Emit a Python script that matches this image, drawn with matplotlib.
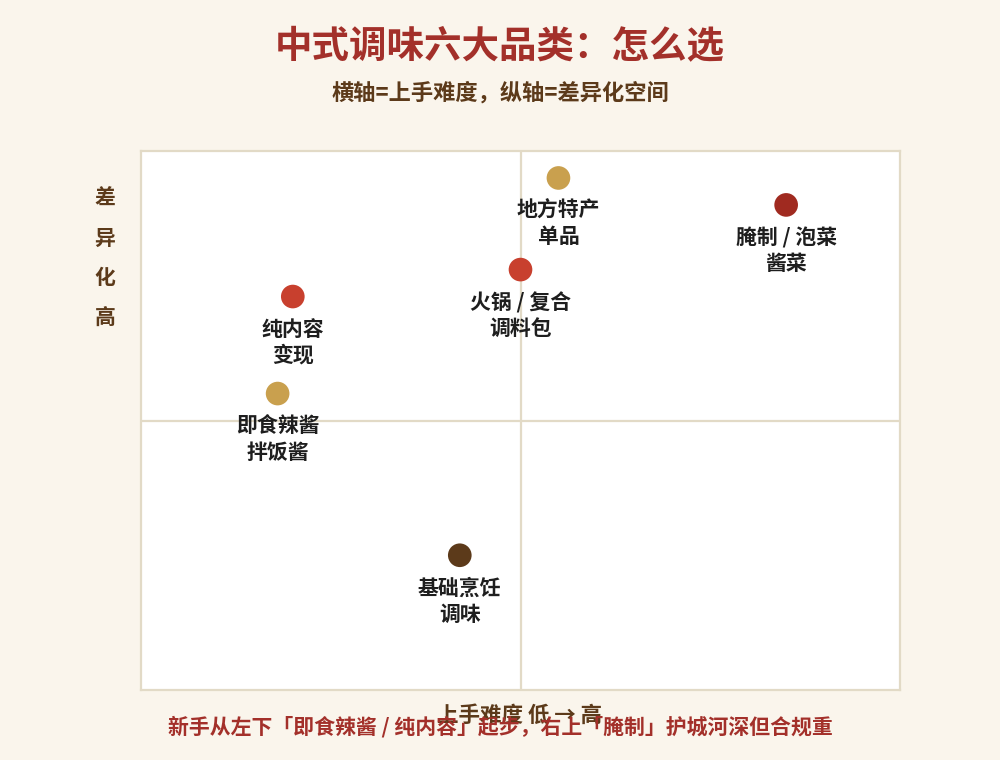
import matplotlib
matplotlib.use("Agg")
import matplotlib.pyplot as plt

plt.rcParams['font.family'] = ['Noto Sans CJK SC', 'DejaVu Sans']

# data: 上手难度 (x) vs 差异化空间 (y), 0-10
names = ['纯内容\n变现', '即食辣酱\n拌饭酱', '火锅 / 复合\n调料包',
         '地方特产\n单品', '腌制 / 泡菜\n酱菜', '基础烹饪\n调味']
difficulty = [2.0, 1.8, 5.0, 5.5, 8.5, 4.2]
differentiation = [7.3, 5.5, 7.8, 9.5, 9.0, 2.5]
colors = ['#C8402E', '#C9A04E', '#C8402E', '#C9A04E', '#A02A20', '#5C3A1A']

bg = '#FAF5EC'
grid_c = '#E2DAC6'
brown = '#5C3A1A'
red = '#A3302A'

fig = plt.figure(figsize=(10, 7.6), dpi=100, facecolor=bg)
ax = fig.add_axes([0.141, 0.0921, 0.759, 0.7092])
ax.set_facecolor('white')
ax.set_xlim(0, 10)
ax.set_ylim(0, 10)
ax.set_xticks([])
ax.set_yticks([])
for s in ax.spines.values():
    s.set_color(grid_c)
    s.set_linewidth(1.6)

ax.axvline(5, color=grid_c, lw=1.6, zorder=1)
ax.axhline(5, color=grid_c, lw=1.6, zorder=1)

ax.scatter(difficulty, differentiation, s=290, c=colors, zorder=3, linewidths=0)
for n, x, y in zip(names, difficulty, differentiation):
    ax.annotate(n, (x, y), xytext=(0, -16), textcoords='offset points',
                ha='center', va='top', fontsize=15, fontweight='bold',
                color='#1E1E1E', linespacing=1.3, zorder=4)

fig.text(0.5, 0.938, '中式调味六大品类：怎么选', ha='center', va='center',
         fontsize=27, fontweight='bold', color=red)
fig.text(0.5, 0.877, '横轴=上手难度，纵轴=差异化空间', ha='center', va='center',
         fontsize=16, fontweight='bold', color=brown)

fig.text(0.105, 0.6605, '差\n异\n化\n高', ha='center', va='center',
         fontsize=15, fontweight='bold', color=brown, linespacing=2.1)

fig.text(0.52, 0.059, '上手难度 低 → 高', ha='center', va='center',
         fontsize=15.5, fontweight='bold', color=brown)
fig.text(0.5, 0.044, '新手从左下「即食辣酱 / 纯内容」起步，右上「腌制」护城河深但合规重',
         ha='center', va='center', fontsize=15, fontweight='bold', color=red)

fig.savefig('out.png', dpi=100, facecolor=bg)
